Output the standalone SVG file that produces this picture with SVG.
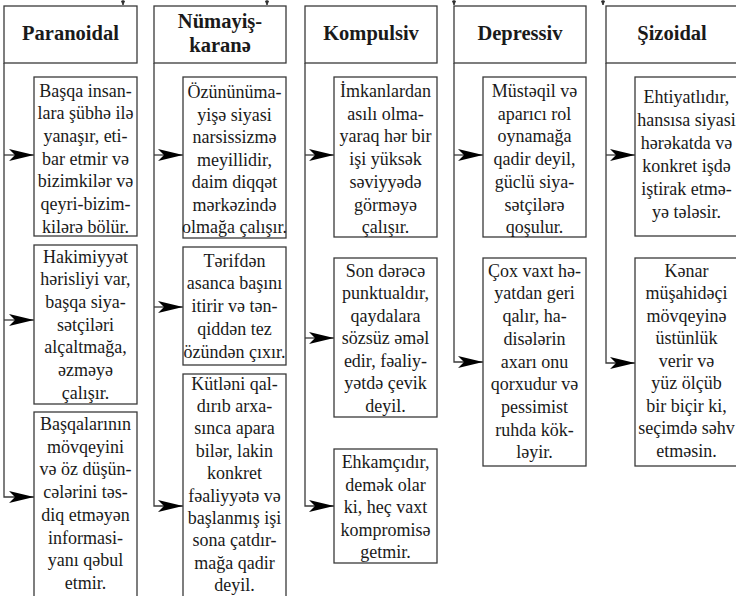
<svg xmlns="http://www.w3.org/2000/svg" width="736" height="596" viewBox="0 0 736 596" font-family="'Liberation Serif', Tinos, 'Times New Roman', 'DejaVu Serif', serif">
  <style>
    .box { fill: #ffffff; stroke: #3a3a3a; stroke-width: 1.3; }
    text { font-family: "Liberation Serif", Tinos, "Times New Roman", "DejaVu Serif", serif; fill: #1a1a1a; text-anchor: middle; }
    .hd { font-weight: bold; font-size: 20.5px; }
    .tx { font-size: 18px; }
    .ln { fill: none; stroke: #3a3a3a; stroke-width: 1.3; }
    .arr { marker-end: url(#head); }
  </style>
  <defs>
    <marker id="head" markerUnits="userSpaceOnUse" viewBox="0 0 25 12" refX="25" refY="6" markerWidth="25" markerHeight="12" orient="auto">
      <path d="M0,0 L25,6 L0,12 L6,6 Z" fill="#000"/>
    </marker>
  </defs>
  <rect width="736" height="596" fill="#ffffff"/>

  <!-- connectors: incoming stubs at top and the column trunks -->
  <g id="connectors">
    <g fill="#222" stroke="#3a3a3a" stroke-width="1">
      <path d="M123,0 V3"/><path d="M121.5,1 L124.5,1 L123,5 Z"/>
      <path d="M267,0 V3"/><path d="M265.5,1 L268.5,1 L267,5 Z"/>
      <path d="M454,0 V3"/><path d="M452.5,1 L455.5,1 L454,5 Z"/>
      <path d="M603,0 V3"/><path d="M601.5,1 L604.5,1 L603,5 Z"/>
    </g>
    <!-- Paranoidal -->
    <path class="ln arr" d="M4,63 V497 H34"/>
    <path class="ln arr" d="M4,155 H34"/>
    <path class="ln arr" d="M4,320 H34"/>
    <!-- Nümayişkaranə -->
    <path class="ln arr" d="M154,63 V506 H183"/>
    <path class="ln arr" d="M154,155 H183"/>
    <path class="ln arr" d="M154,307 H183"/>
    <!-- Kompulsiv -->
    <path class="ln arr" d="M305,63 V506 H334"/>
    <path class="ln arr" d="M305,155 H334"/>
    <path class="ln arr" d="M305,338 H334"/>
    <!-- Depressiv -->
    <path class="ln arr" d="M454,63 V362 H483"/>
    <path class="ln arr" d="M454,155 H483"/>
    <!-- Şizoidal -->
    <path class="ln arr" d="M606,63 V363 H635"/>
    <path class="ln arr" d="M606,155 H635"/>
  </g>

  <!-- column headers -->
  <g id="h-paranoidal">
    <rect class="box" x="4" y="6" width="133" height="57"/>
    <text class="hd" x="70.5" y="40">Paranoidal</text>
  </g>
  <g id="h-numayiskarane">
    <rect class="box" x="154" y="6" width="132" height="57"/>
    <text class="hd" x="220" y="27.5">Nümayiş-</text>
    <text class="hd" x="220" y="52">karanə</text>
  </g>
  <g id="h-kompulsiv">
    <rect class="box" x="305" y="6" width="132" height="57"/>
    <text class="hd" x="371" y="40">Kompulsiv</text>
  </g>
  <g id="h-depressiv">
    <rect class="box" x="454" y="6" width="132" height="57"/>
    <text class="hd" x="520" y="40">Depressiv</text>
  </g>
  <g id="h-sizoidal">
    <rect class="box" x="606" y="6" width="133" height="57"/>
    <text class="hd" x="672" y="40">Şizoidal</text>
  </g>

  <!-- Paranoidal items -->
  <g id="p1">
    <rect class="box" x="34" y="77" width="103" height="159"/>
    <text class="tx" x="85.5" y="96.5">Başqa insan-<tspan x="85.5" dy="22.7">lara şübhə ilə</tspan><tspan x="85.5" dy="22.7">yanaşır, eti-</tspan><tspan x="85.5" dy="22.7">bar etmir və</tspan><tspan x="85.5" dy="22.7">bizimkilər və</tspan><tspan x="85.5" dy="22.7">qeyri-bizim-</tspan><tspan x="85.5" dy="22.7">kilərə bölür.</tspan></text>
  </g>
  <g id="p2">
    <rect class="box" x="34" y="245" width="103" height="159"/>
    <text class="tx" x="85.5" y="262.5">Hakimiyyət<tspan x="85.5" dy="22.7">hərisliyi var,</tspan><tspan x="85.5" dy="22.7">başqa siya-</tspan><tspan x="85.5" dy="22.7">sətçiləri</tspan><tspan x="85.5" dy="22.7">alçaltmağa,</tspan><tspan x="85.5" dy="22.7">əzməyə</tspan><tspan x="85.5" dy="22.7">çalışır.</tspan></text>
  </g>
  <g id="p3">
    <rect class="box" x="34" y="412" width="103" height="190"/>
    <text class="tx" x="85.5" y="430">Başqalarının<tspan x="85.5" dy="22.7">mövqeyini</tspan><tspan x="85.5" dy="22.7">və öz düşün-</tspan><tspan x="85.5" dy="22.7">cələrini təs-</tspan><tspan x="85.5" dy="22.7">diq etməyən</tspan><tspan x="85.5" dy="22.7">informasi-</tspan><tspan x="85.5" dy="22.7">yanı qəbul</tspan><tspan x="85.5" dy="22.7">etmir.</tspan></text>
  </g>

  <!-- Nümayişkaranə items -->
  <g id="n1">
    <rect class="box" x="183" y="77" width="103" height="161"/>
    <text class="tx" x="234.5" y="98">Özününüma-<tspan x="234.5" dy="22.5">yişə siyasi</tspan><tspan x="234.5" dy="22.5">narsissizmə</tspan><tspan x="234.5" dy="22.5">meyillidir,</tspan><tspan x="234.5" dy="22.5">daim diqqət</tspan><tspan x="234.5" dy="22.5">mərkəzində</tspan><tspan x="234.5" dy="22.5">olmağa çalışır.</tspan></text>
  </g>
  <g id="n2">
    <rect class="box" x="183" y="247" width="103" height="118"/>
    <text class="tx" x="234.5" y="266.5">Tərifdən<tspan x="234.5" dy="22.8">asanca başını</tspan><tspan x="234.5" dy="22.8">itirir və tən-</tspan><tspan x="234.5" dy="22.8">qiddən tez</tspan><tspan x="234.5" dy="22.8">özündən çıxır.</tspan></text>
  </g>
  <g id="n3">
    <rect class="box" x="183" y="374" width="103" height="228"/>
    <text class="tx" x="234.5" y="389.5">Kütləni qal-<tspan x="234.5" dy="22.4">dırıb arxa-</tspan><tspan x="234.5" dy="22.4">sınca apara</tspan><tspan x="234.5" dy="22.4">bilər, lakin</tspan><tspan x="234.5" dy="22.4">konkret</tspan><tspan x="234.5" dy="22.4">fəaliyyətə və</tspan><tspan x="234.5" dy="22.4">başlanmış işi</tspan><tspan x="234.5" dy="22.4">sona çatdır-</tspan><tspan x="234.5" dy="22.4">mağa qadir</tspan><tspan x="234.5" dy="22.4">deyil.</tspan></text>
  </g>

  <!-- Kompulsiv items -->
  <g id="k1">
    <rect class="box" x="334" y="77" width="103" height="160"/>
    <text class="tx" x="385.5" y="97">İmkanlardan<tspan x="385.5" dy="22.7">asılı olma-</tspan><tspan x="385.5" dy="22.7">yaraq hər bir</tspan><tspan x="385.5" dy="22.7">işi yüksək</tspan><tspan x="385.5" dy="22.7">səviyyədə</tspan><tspan x="385.5" dy="22.7">görməyə</tspan><tspan x="385.5" dy="22.7">çalışır.</tspan></text>
  </g>
  <g id="k2">
    <rect class="box" x="334" y="258" width="103" height="159"/>
    <text class="tx" x="385.5" y="276.7">Son dərəcə<tspan x="385.5" dy="22.5">punktualdır,</tspan><tspan x="385.5" dy="22.5">qaydalara</tspan><tspan x="385.5" dy="22.5">sözsüz əməl</tspan><tspan x="385.5" dy="22.5">edir, fəaliy-</tspan><tspan x="385.5" dy="22.5">yətdə çevik</tspan><tspan x="385.5" dy="22.5">deyil.</tspan></text>
  </g>
  <g id="k3">
    <rect class="box" x="334" y="449" width="103" height="114"/>
    <text class="tx" x="385.5" y="468.3">Ehkamçıdır,<tspan x="385.5" dy="22.5">demək olar</tspan><tspan x="385.5" dy="22.5">ki, heç vaxt</tspan><tspan x="385.5" dy="22.5">kompromisə</tspan><tspan x="385.5" dy="22.5">getmir.</tspan></text>
  </g>

  <!-- Depressiv items -->
  <g id="d1">
    <rect class="box" x="483" y="77" width="103" height="160"/>
    <text class="tx" x="534.5" y="97">Müstəqil və<tspan x="534.5" dy="22.7">aparıcı rol</tspan><tspan x="534.5" dy="22.7">oynamağa</tspan><tspan x="534.5" dy="22.7">qadir deyil,</tspan><tspan x="534.5" dy="22.7">güclü siya-</tspan><tspan x="534.5" dy="22.7">sətçilərə</tspan><tspan x="534.5" dy="22.7">qoşulur.</tspan></text>
  </g>
  <g id="d2">
    <rect class="box" x="483" y="258" width="103" height="208"/>
    <text class="tx" x="534.5" y="276.7">Çox vaxt hə-<tspan x="534.5" dy="22.7">yatdan geri</tspan><tspan x="534.5" dy="22.7">qalır, ha-</tspan><tspan x="534.5" dy="22.7">disələrin</tspan><tspan x="534.5" dy="22.7">axarı onu</tspan><tspan x="534.5" dy="22.7">qorxudur və</tspan><tspan x="534.5" dy="22.7">pessimist</tspan><tspan x="534.5" dy="22.7">ruhda kök-</tspan><tspan x="534.5" dy="22.7">ləyir.</tspan></text>
  </g>

  <!-- Şizoidal items -->
  <g id="s1">
    <rect class="box" x="635" y="77" width="104" height="159"/>
    <text class="tx" x="686.5" y="103">Ehtiyatlıdır,<tspan x="686.5" dy="23">hansısa siyasi</tspan><tspan x="686.5" dy="23">hərəkatda və</tspan><tspan x="686.5" dy="23">konkret işdə</tspan><tspan x="686.5" dy="23">iştirak etmə-</tspan><tspan x="686.5" dy="23">yə tələsir.</tspan></text>
  </g>
  <g id="s2">
    <rect class="box" x="635" y="258" width="104" height="208"/>
    <text class="tx" x="686.5" y="276.7">Kənar<tspan x="686.5" dy="22.5">müşahidəçi</tspan><tspan x="686.5" dy="22.5">mövqeyinə</tspan><tspan x="686.5" dy="22.5">üstünlük</tspan><tspan x="686.5" dy="22.5">verir və</tspan><tspan x="686.5" dy="22.5">yüz ölçüb</tspan><tspan x="686.5" dy="22.5">bir biçir ki,</tspan><tspan x="686.5" dy="22.5">seçimdə səhv</tspan><tspan x="686.5" dy="22.5">etməsin.</tspan></text>
  </g>
</svg>
